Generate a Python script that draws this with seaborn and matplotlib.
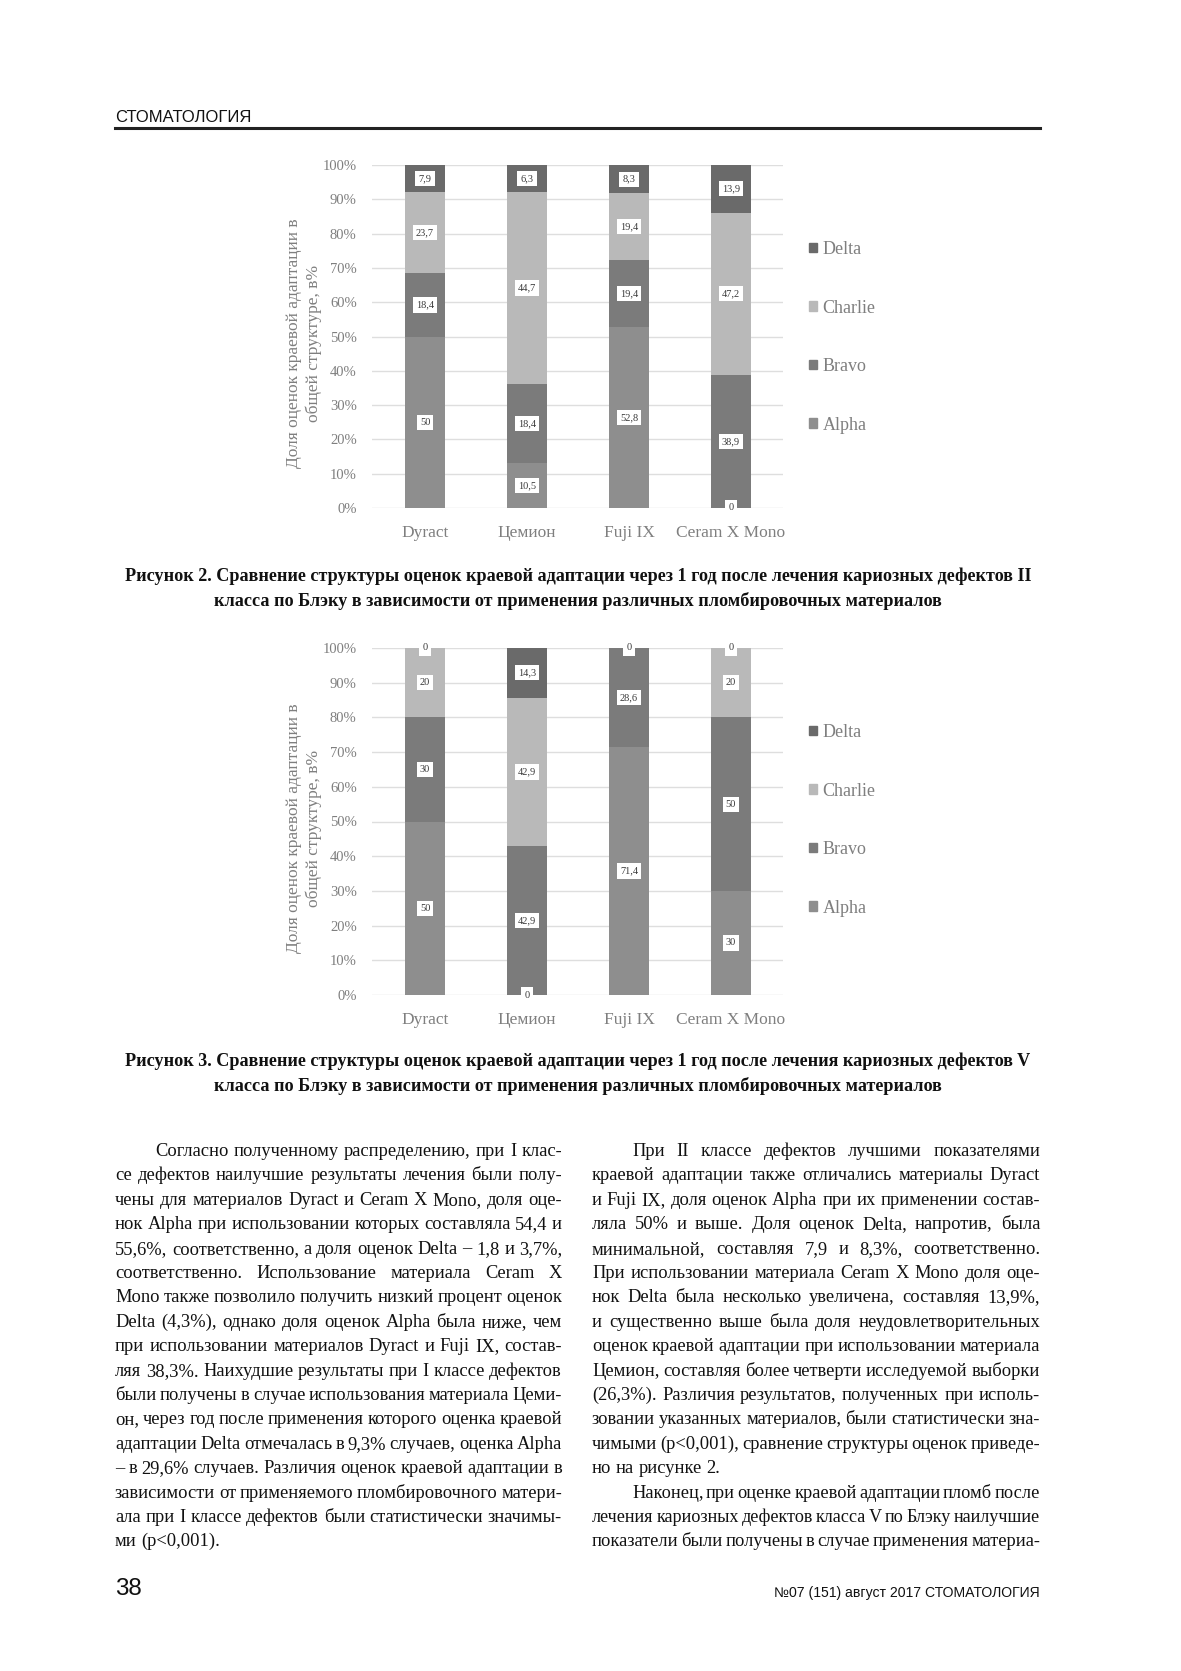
import matplotlib
matplotlib.use("Agg")
import matplotlib.pyplot as plt
import seaborn as sns
import numpy as np
import pandas as pd
from matplotlib.font_manager import FontProperties
from matplotlib.patches import Patch
from matplotlib.lines import Line2D

# ---------- data ----------
materials = ["Dyract", "Цемион", "Fuji IX", "Ceram X Mono"]
grades = ["Alpha", "Bravo", "Charlie", "Delta"]

# Рисунок 2 (II класс)
fig2_alpha = [50, 10.5, 52.8, 0]
fig2_bravo = [18.4, 18.4, 19.4, 38.9]
fig2_charlie = [23.7, 44.7, 19.4, 47.2]
fig2_delta = [7.9, 6.3, 8.3, 13.9]

# Рисунок 3 (V класс)
fig3_alpha = [50, 0, 71.4, 30]
fig3_bravo = [30, 42.9, 28.6, 50]
fig3_charlie = [20, 42.9, 0, 20]
fig3_delta = [0, 14.3, 0, 0]

y_ticks = list(range(0, 101, 10))
y_tick_labels = [f"{t}%" for t in y_ticks]
y_title = "Доля оценок краевой адаптации в\nобщей структуре, в%"

colors = {"Alpha": "#8e8e8e", "Bravo": "#7b7b7b", "Charlie": "#b9b9b9", "Delta": "#6a6a6a"}

header = "СТОМАТОЛОГИЯ"
caption2 = ["Рисунок 2. Сравнение структуры оценок краевой адаптации через 1 год после лечения кариозных дефектов II",
            "класса по Блэку в зависимости от применения различных пломбировочных материалов"]
caption3 = ["Рисунок 3. Сравнение структуры оценок краевой адаптации через 1 год после лечения кариозных дефектов V",
            "класса по Блэку в зависимости от применения различных пломбировочных материалов"]
page_no = "38"
footer = "№07 (151) август 2017 СТОМАТОЛОГИЯ"

# (text, indent, last line of paragraph)
left_lines = [
    ("Согласно полученному распределению, при I клас-", True, False),
    ("се дефектов наилучшие результаты лечения были полу-", False, False),
    ("чены для материалов Dyract и Ceram X Mono, доля оце-", False, False),
    ("нок Alpha при использовании которых составляла 54,4 и", False, False),
    ("55,6%, соответственно, а доля оценок Delta – 1,8 и 3,7%,", False, False),
    ("соответственно. Использование материала Ceram X", False, False),
    ("Mono также позволило получить низкий процент оценок", False, False),
    ("Delta (4,3%), однако доля оценок Alpha была ниже, чем", False, False),
    ("при использовании материалов Dyract и Fuji IX, состав-", False, False),
    ("ляя 38,3%. Наихудшие результаты при I классе дефектов", False, False),
    ("были получены в случае использования материала Цеми-", False, False),
    ("он, через год после применения которого оценка краевой", False, False),
    ("адаптации Delta отмечалась в 9,3% случаев, оценка Alpha", False, False),
    ("– в 29,6% случаев. Различия оценок краевой адаптации в", False, False),
    ("зависимости от применяемого пломбировочного матери-", False, False),
    ("ала при I классе дефектов были статистически значимы-", False, False),
    ("ми (p<0,001).", False, True),
]
right_lines = [
    ("При II классе дефектов лучшими показателями", True, False),
    ("краевой адаптации также отличались материалы Dyract", False, False),
    ("и Fuji IX, доля оценок Alpha при их применении состав-", False, False),
    ("ляла 50% и выше. Доля оценок Delta, напротив, была", False, False),
    ("минимальной, составляя 7,9 и 8,3%, соответственно.", False, False),
    ("При использовании материала Ceram X Mono доля оце-", False, False),
    ("нок Delta была несколько увеличена, составляя 13,9%,", False, False),
    ("и существенно выше была доля неудовлетворительных", False, False),
    ("оценок краевой адаптации при использовании материала", False, False),
    ("Цемион, составляя более четверти исследуемой выборки", False, False),
    ("(26,3%). Различия результатов, полученных при исполь-", False, False),
    ("зовании указанных материалов, были статистически зна-", False, False),
    ("чимыми (p<0,001), сравнение структуры оценок приведе-", False, False),
    ("но на рисунке 2.", False, True),
    ("Наконец, при оценке краевой адаптации пломб после", True, False),
    ("лечения кариозных дефектов класса V по Блэку наилучшие", False, False),
    ("показатели были получены в случае применения материа-", False, False),
]

# ---------- page setup ----------
W, H = 1181, 1671
SERIF = ["Liberation Serif", "DejaVu Serif"]
NARROW = ["Liberation Sans Narrow", "Liberation Sans", "DejaVu Sans"]
GRAY = "#7f7f7f"
INK = "#111111"

fig = plt.figure(figsize=(W / 100, H / 100), dpi=100)
fig.patch.set_facecolor("white")
renderer = fig.canvas.get_renderer()


def fx(x):
    return x / W


def fy(y):
    return 1 - y / H


def text_w(s, prop):
    return renderer.get_text_width_height_descent(s, prop, ismath=False)[0]


def fit_size(s, family, weight, target):
    p = FontProperties(family=family, weight=weight, size=10)
    return 10 * target / text_w(s, p)


def fmt(v):
    return f"{v:g}".replace(".", ",")


def draw_chart(top, bottom, alpha, bravo, charlie, delta):
    left, right = 372, 783
    ax = fig.add_axes([fx(left), fy(bottom), (right - left) / W, (bottom - top) / H])
    df = pd.DataFrame({"Alpha": alpha, "Bravo": bravo, "Charlie": charlie, "Delta": delta},
                      index=materials)
    # Excel-style 100% stacked: normalise each bar
    share = df.div(df.sum(axis=1), axis=0) * 100
    cum = share.cumsum(axis=1)

    # draw cumulative totals from the top down, so each shorter bar covers the lower part
    for g in reversed(grades):
        sns.barplot(x=materials, y=cum[g].values, color=colors[g], width=0.4,
                    saturation=1, errorbar=None, linewidth=0, ax=ax)

    # data labels
    for i, m in enumerate(materials):
        for g in grades:
            ymid = cum.loc[m, g] - share.loc[m, g] / 2
            ax.text(i, ymid, fmt(df.loc[m, g]), ha="center", va="center",
                    fontsize=7.5, family=SERIF, color="#3a3a3a", zorder=5,
                    bbox=dict(boxstyle="square,pad=0.3", fc="white", ec="none"))

    ax.set_ylim(0, 100)
    ax.set_xlim(-0.52, 3.51)
    ax.set_yticks(y_ticks, labels=y_tick_labels, fontsize=10.5, family=SERIF, color=GRAY)
    ax.set_xticks(range(len(materials)), labels=materials, fontsize=12.5, family=SERIF, color=GRAY)
    ax.tick_params(axis="both", length=0)
    ax.tick_params(axis="y", pad=11)
    ax.tick_params(axis="x", pad=12)
    ax.grid(axis="y", color="#dedede", lw=1)
    ax.set_axisbelow(True)
    for s in ax.spines.values():
        s.set_visible(False)
    ax.set_xlabel("")
    ax.set_ylabel(y_title, fontsize=12.5, family=SERIF, color=GRAY, linespacing=1.3)
    ax.yaxis.set_label_coords((322 - left) / (right - left), 0.48)

    handles = [Patch(color=colors[g], label=g) for g in reversed(grades)]
    fig.legend(handles=handles, loc="upper left",
               bbox_to_anchor=(fx(809), fy(top + 76)), frameon=False,
               prop=FontProperties(family=SERIF, size=13), labelcolor=GRAY,
               handlelength=0.45, handleheight=0.45, handletextpad=0.3,
               labelspacing=2.3, borderpad=0, borderaxespad=0)
    return ax


draw_chart(165, 508, fig2_alpha, fig2_bravo, fig2_charlie, fig2_delta)
draw_chart(648, 995, fig3_alpha, fig3_bravo, fig3_charlie, fig3_delta)

# ---------- header ----------
hs = fit_size(header, NARROW, "normal", 136)
fig.text(fx(115), fy(122), header, family=NARROW, fontsize=hs, va="baseline", ha="left", color=INK)
fig.add_artist(Line2D([fx(115), fx(1040)], [fy(128), fy(128)], lw=2.2, color="#222222"))

# ---------- captions ----------
cs = fit_size(caption2[0], SERIF, "bold", 908)
for cap, y0 in [(caption2, 581), (caption3, 1066)]:
    for k, line in enumerate(cap):
        fig.text(fx(578), fy(y0 + 25 * k), line, family=SERIF, weight="bold", fontsize=cs,
                 ha="center", va="baseline", color=INK)

# ---------- body text (justified) ----------
col_l = (115, 562)
col_r = (592, 1040)
indent = 40
MIN_GAP = 0.65  # smallest word gap, in spaces


def line_need(txt, size):
    prop = FontProperties(family=SERIF, size=size)
    words = txt.split(" ")
    space = text_w("a a", prop) - text_w("aa", prop)
    return sum(text_w(w, prop) for w in words) + MIN_GAP * space * (len(words) - 1)


# one body size for the page: most lines fit with normal spacing
ratios = []
for lines, (x0, x1) in [(left_lines, col_l), (right_lines, col_r)]:
    for txt, ind, last in lines:
        if not last:
            ratios.append((x1 - x0 - (indent if ind else 0)) / line_need(txt, 10))
bs = 10 * float(np.quantile(ratios, 0.15))


def put_column(lines, x0, x1, y0, step):
    for k, (txt, ind, last) in enumerate(lines):
        y = y0 + k * step
        start = x0 + (indent if ind else 0)
        words = txt.split(" ")
        size = bs
        if not last:
            need = line_need(txt, size)
            if need > x1 - start:
                size = size * (x1 - start) / need
        prop = FontProperties(family=SERIF, size=size)
        space = text_w("a a", prop) - text_w("aa", prop)
        widths = [text_w(w, prop) for w in words]
        if last or len(words) == 1:
            gap = space
        else:
            gap = (x1 - start - sum(widths)) / (len(words) - 1)
        x = start
        for w, ww in zip(words, widths):
            fig.text(fx(x), fy(y), w, fontproperties=prop, va="baseline", ha="left", color=INK)
            x += ww + gap


put_column(left_lines, col_l[0], col_l[1], 1156, 24.4)
put_column(right_lines, col_r[0], col_r[1], 1156, 24.4)

# ---------- footer ----------
ps = fit_size(page_no, NARROW, "normal", 27)
fig.text(fx(115), fy(1595), page_no, family=NARROW, fontsize=ps, va="baseline", ha="left", color=INK)
fs = fit_size(footer, NARROW, "normal", 265)
fig.text(fx(1040), fy(1597), footer, family=NARROW, fontsize=fs, va="baseline", ha="right", color=INK)

fig.savefig("out.png", dpi=100, facecolor="white")
